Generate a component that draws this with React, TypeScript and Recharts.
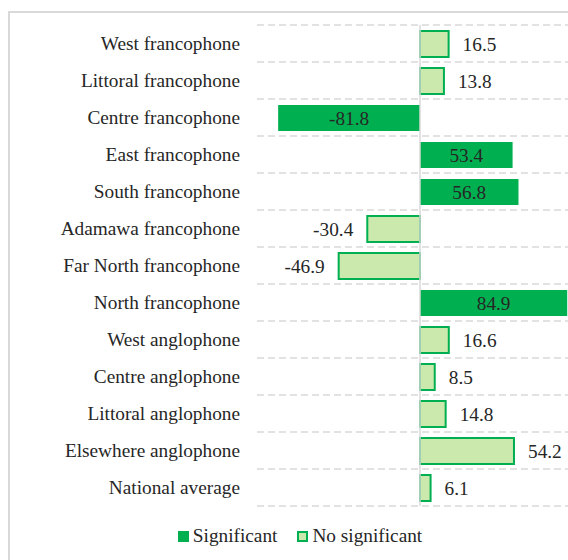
import React from 'react';
import {
  BarChart,
  Bar,
  XAxis,
  YAxis,
  CartesianGrid,
  Legend,
  LabelList,
  ReferenceLine,
} from 'recharts';

// Regions (top to bottom as shown)
const categories = [
  'West francophone',
  'Littoral francophone',
  'Centre francophone',
  'East francophone',
  'South francophone',
  'Adamawa francophone',
  'Far North francophone',
  'North francophone',
  'West anglophone',
  'Centre anglophone',
  'Littoral anglophone',
  'Elsewhere anglophone',
  'National average',
];

const values = [16.5, 13.8, -81.8, 53.4, 56.8, -30.4, -46.9, 84.9, 16.6, 8.5, 14.8, 54.2, 6.1];

const significant = [false, false, true, true, true, false, false, true, false, false, false, false, false];

const seriesNames = ['Significant', 'No significant'];

const data = categories.map((name, i) => ({
  name,
  sig: significant[i] ? values[i] : null,
  nonsig: significant[i] ? null : values[i],
}));

const FONT = '"Liberation Serif", "Times New Roman", serif';
const FONT_SIZE = 19.3;
const TEXT = '#262626';
const DARK_GREEN = '#00b050';
const LIGHT_GREEN = '#cce9ad';
const GRID = '#d9d9d9';

function box(props: any) {
  const vb = props.viewBox && props.viewBox.width !== undefined ? props.viewBox : props;
  const x = Number(vb.x);
  const w = Number(vb.width);
  return {
    left: Math.min(x, x + w),
    right: Math.max(x, x + w),
    cy: Number(vb.y) + Number(vb.height) / 2,
  };
}

// Value label inside the bar (significant)
function InsideLabel(props: any) {
  if (props.value === null || props.value === undefined) return null;
  const b = box(props);
  return (
    <text
      x={(b.left + b.right) / 2}
      y={b.cy}
      textAnchor="middle"
      dominantBaseline="central"
      fill={TEXT}
      fontSize={FONT_SIZE}
      fontFamily={FONT}
    >
      {Number(props.value).toFixed(1)}
    </text>
  );
}

// Value label beyond the bar end (not significant)
function OutsideLabel(props: any) {
  if (props.value === null || props.value === undefined) return null;
  const b = box(props);
  const v = Number(props.value);
  return (
    <text
      x={v >= 0 ? b.right + 14 : b.left - 14}
      y={b.cy}
      textAnchor={v >= 0 ? 'start' : 'end'}
      dominantBaseline="central"
      fill={TEXT}
      fontSize={FONT_SIZE}
      fontFamily={FONT}
    >
      {v.toFixed(1)}
    </text>
  );
}

function LegendContent() {
  const item = (label: string, fill: string, stroke: string) => (
    <span style={{ display: 'inline-flex', alignItems: 'center', margin: '0 10px' }}>
      <span
        style={{
          display: 'inline-block',
          width: 11,
          height: 11,
          boxSizing: 'border-box',
          background: fill,
          border: `2px solid ${stroke}`,
          marginRight: 4,
        }}
      />
      {label}
    </span>
  );
  return (
    <div
      style={{
        height: 24,
        display: 'flex',
        justifyContent: 'center',
        alignItems: 'center',
        fontFamily: FONT,
        fontSize: FONT_SIZE,
        color: TEXT,
      }}
    >
      {item(seriesNames[0], DARK_GREEN, DARK_GREEN)}
      {item(seriesNames[1], LIGHT_GREEN, DARK_GREEN)}
    </div>
  );
}

export default function App() {
  return (
    <div
      style={{
        position: 'fixed',
        left: 0,
        top: 0,
        width: 568,
        height: 560,
        overflow: 'hidden',
        background: '#fff',
      }}
    >
      <div
        style={{
          position: 'absolute',
          left: 8,
          top: 11,
          width: 700,
          height: 700,
          border: `2px solid ${GRID}`,
        }}
      />
      <div style={{ position: 'absolute', left: 0, top: 0 }}>
        <BarChart
          width={600}
          height={560}
          data={data}
          layout="vertical"
          stackOffset="sign"
          barSize={26}
          margin={{ top: 25, right: 17, bottom: 30, left: 10 }}
        >
          <CartesianGrid
            vertical={false}
            stroke={GRID}
            strokeWidth={1.5}
            strokeDasharray="7 4"
            horizontalCoordinatesGenerator={({ offset }: any) =>
              Array.from(
                { length: categories.length + 1 },
                (_, i) => offset.top + (i * offset.height) / categories.length
              )
            }
          />
          <XAxis type="number" domain={[-94, 94]} hide />
          <YAxis
            type="category"
            dataKey="name"
            width={247}
            tickLine={false}
            axisLine={false}
            tickSize={0}
            tickMargin={17}
            interval={0}
            tick={{ fill: TEXT, fontSize: FONT_SIZE, fontFamily: FONT }}
          />
          <Legend
            verticalAlign="bottom"
            wrapperStyle={{ left: 0, width: 600, top: 524, bottom: 'auto' }}
            content={<LegendContent />}
          />
          <Bar
            dataKey="sig"
            name={seriesNames[0]}
            stackId="a"
            fill={DARK_GREEN}
            isAnimationActive={false}
          >
            <LabelList dataKey="sig" content={<InsideLabel />} />
          </Bar>
          <Bar
            dataKey="nonsig"
            name={seriesNames[1]}
            stackId="a"
            fill={LIGHT_GREEN}
            stroke={DARK_GREEN}
            strokeWidth={2}
            isAnimationActive={false}
          >
            <LabelList dataKey="nonsig" content={<OutsideLabel />} />
          </Bar>
          <ReferenceLine x={0} stroke={GRID} strokeWidth={1.5} />
        </BarChart>
      </div>
    </div>
  );
}
